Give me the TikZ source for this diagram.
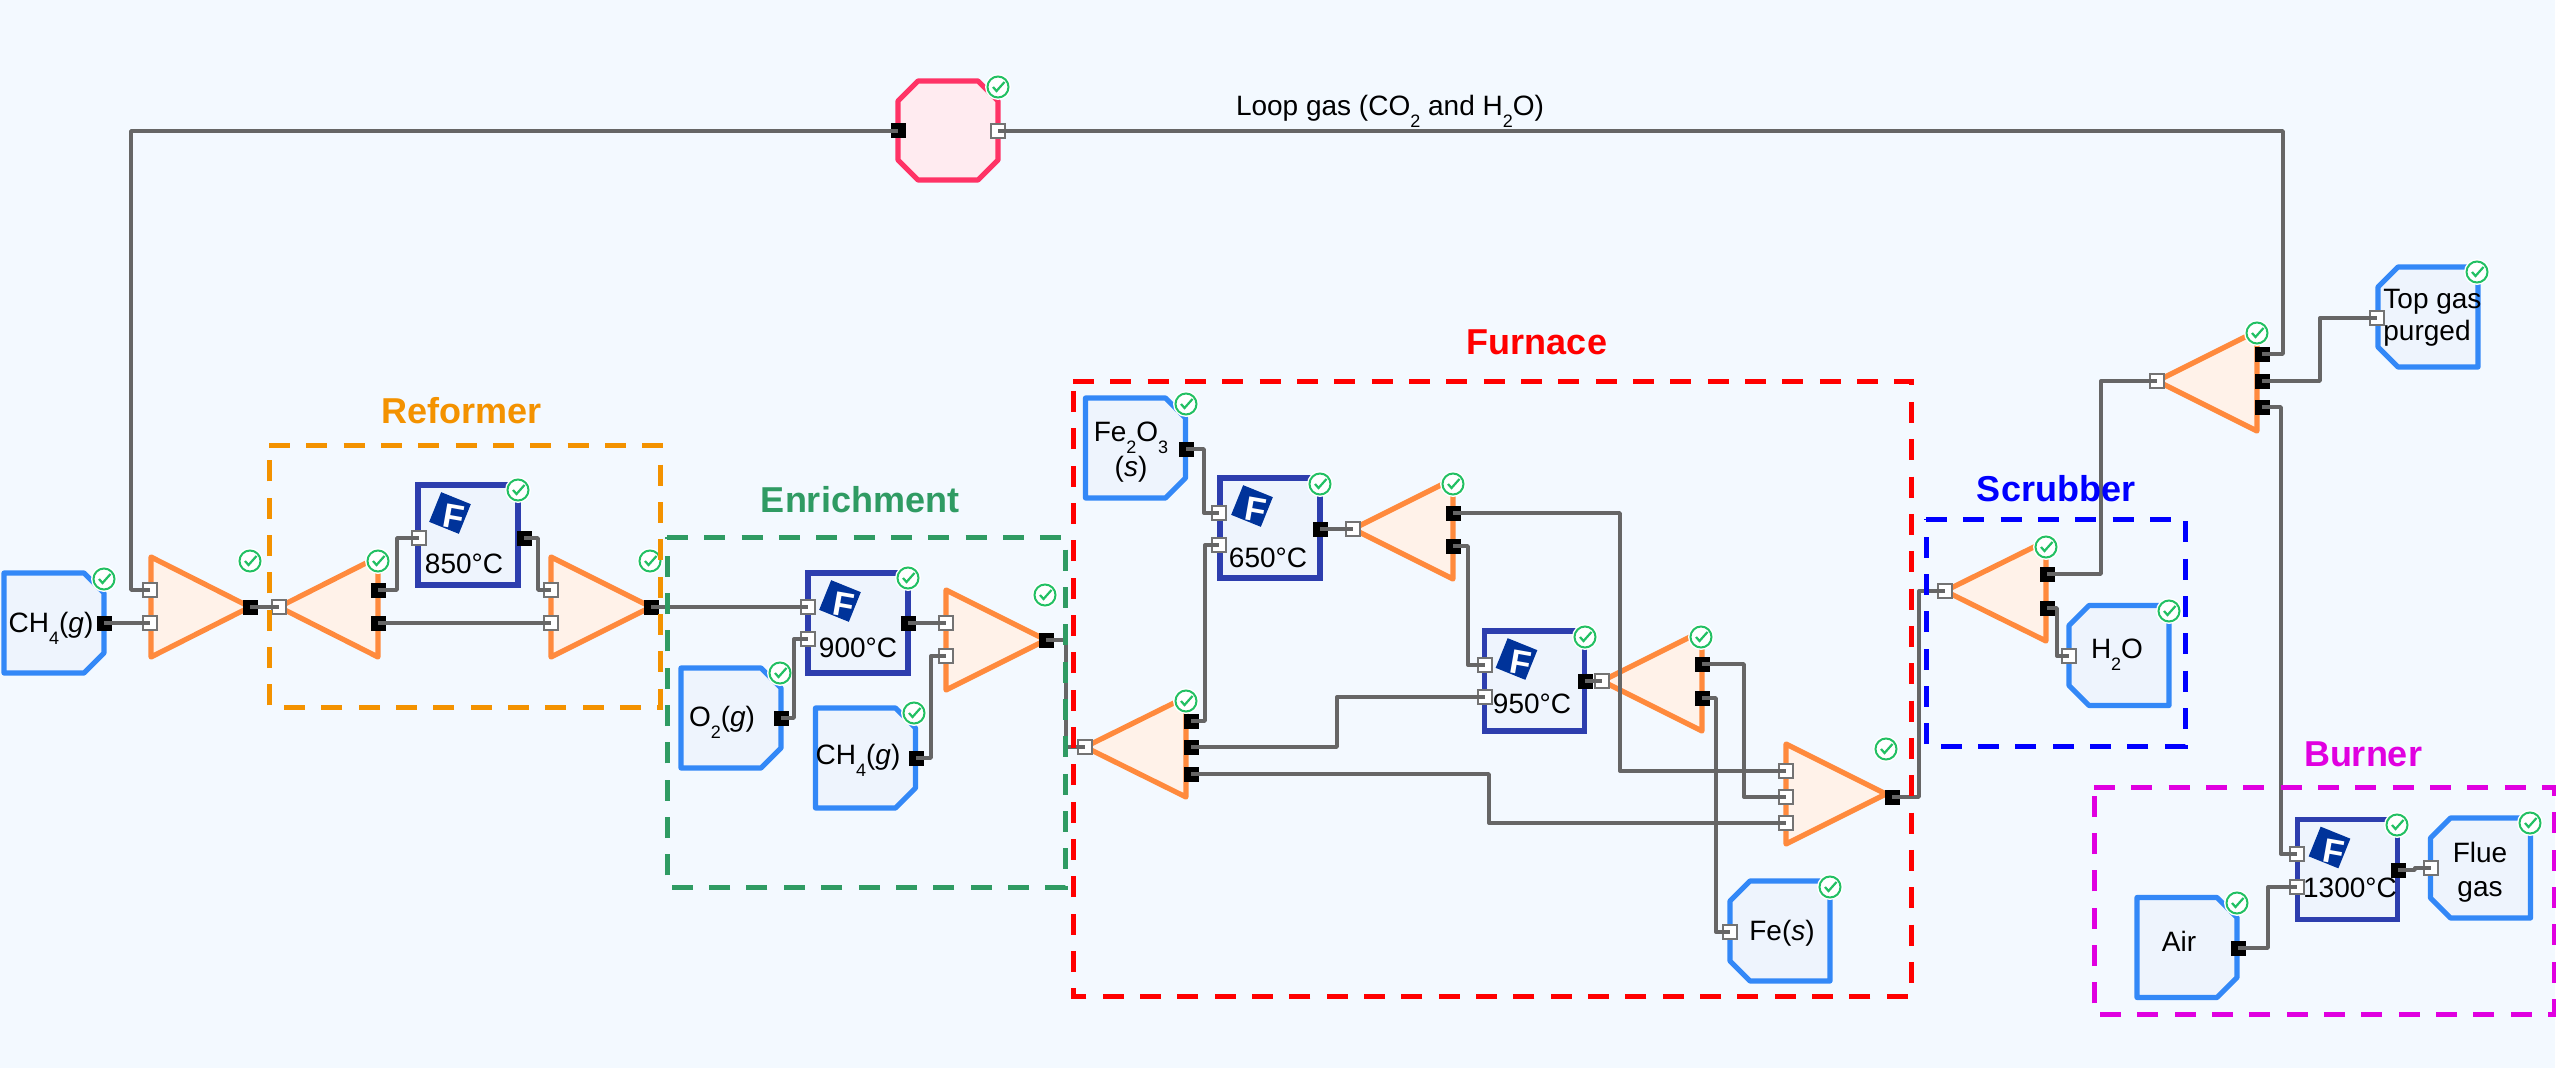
\documentclass[tikz,border=0pt]{standalone}
\usepackage{fontspec}
\setmainfont{Liberation Sans}
\usetikzlibrary{arrows}

\definecolor{pagebg}{HTML}{F3F9FF}
\definecolor{streamline}{HTML}{3388F7}
\definecolor{streamfill}{HTML}{EEF4FD}
\definecolor{reactline}{HTML}{2D3EAE}
\definecolor{mixline}{HTML}{FF8A3D}
\definecolor{mixfill}{HTML}{FFF2E9}
\definecolor{loopline}{HTML}{FF3366}
\definecolor{loopfill}{HTML}{FFEBF0}
\definecolor{okgreen}{HTML}{22C063}
\definecolor{logoblue}{HTML}{00339A}
\definecolor{reformcol}{HTML}{F39200}
\definecolor{enrichcol}{HTML}{2F9B63}
\definecolor{burncol}{HTML}{E000E0}

\newcommand{\lsub}[1]{\smash{\raisebox{-6pt}{\fontsize{9}{9}\selectfont #1}}}

\tikzset{
  stream/.style={draw=streamline, fill=streamfill, line width=2.6pt, line join=round},
  reactor/.style={draw=reactline, fill=streamfill, line width=2.6pt, minimum width=50pt, minimum height=50pt, inner sep=0pt},
  mixer/.style={draw=mixline, fill=mixfill, line width=2.6pt, line join=round},
  portout/.style={fill=black, minimum size=7.5pt, inner sep=0pt},
  portin/.style={draw=black!55, fill=white, line width=0.7pt, minimum size=7pt, inner sep=0pt},
  wire/.style={draw=black!60, line width=1.7pt, line join=round},
  tag/.style={anchor=base, inner sep=0pt, font=\fontsize{14}{14}\selectfont},
  title/.style={anchor=base, inner sep=0pt, font=\fontsize{18}{18}\selectfont\bfseries},
  zone/.style={line width=2.5pt, dash pattern=on 10.5pt off 8.17pt},
  okring/.style={circle, draw=okgreen, line width=1pt, fill=white, minimum size=10.5pt, inner sep=0pt},
  okmark/.style={draw=okgreen, line width=1.1pt},
  logo/.style={fill=logoblue, minimum size=16pt, inner sep=0pt, rotate=-22},
  logoletter/.style={text=white, inner sep=0pt, rotate=-10, font=\fontsize{17}{17}\selectfont\bfseries}
}

\begin{document}
\begin{tikzpicture}[x=0.5pt,y=-0.5pt]
  \useasboundingbox (0,0) rectangle (2556,1081);
  \fill[pagebg] (0,0) rectangle (2555,1068);

  % stream boxes, s=1 is cut on the right, s=-1 on the left
  \foreach \name/\x/\y/\s in {feed/54/623/1, oxy/731/718/1, feedb/865.5/758/1, ore/1135.5/448/1, air/2187/947.5/1,
                              iron/1780/931/-1, water/2119/655.5/-1, purge/2428/317/-1, flue/2480.5/868/-1}{
    \draw[stream] (\x-\s*50,\y-50) -- (\x+\s*30,\y-50) -- (\x+\s*50,\y-30) -- (\x+\s*50,\y+30)
      -- (\x+\s*30,\y+50) -- (\x-\s*50,\y+50) -- cycle;
    \coordinate (box\name) at (\x,\y);
  }
  \draw[stream, draw=loopline, fill=loopfill] (918,81) -- (978,81) -- (998,101) -- (998,160)
    -- (978,180) -- (918,180) -- (898,160) -- (898,101) -- cycle;

  % reactors
  \foreach \name/\x/\y in {reform/468/535, enrich/858/623, prered/1270/528, reduce/1534.5/681, burn/2347.5/869.5}{
    \node[reactor] (\name) at (\x,\y) {};
    \node[logo] (logo\name) at (\x-18,\y-22) {};
    \node[logoletter] (letter\name) at (\x-14,\y-18) {F};
  }

  % mixers and splitters, d is signed width
  \foreach \x/\y/\d in {151/607/99, 378/607/-99, 551/607/100, 946/640/100, 1186/747/-101,
                        1453/529/-100, 1702/681/-100, 1786/794/100, 2046/591/-101, 2257/381/-100}{
    \draw[mixer] (\x,\y-50) -- (\x,\y+50) -- (\x+\d,\y) -- cycle;
  }

  % labels
  \node[tag] (lblfeed) at (51,632) {CH\lsub{4}(\textit{g})};
  \node[tag] (lbloxy) at (722,726) {O\lsub{2}(\textit{g})};
  \node[tag] (lblfeedb) at (858,764) {CH\lsub{4}(\textit{g})};
  \node[tag] (lblore) at (1131,441) {Fe\lsub{2}O\lsub{3}};
  \node[tag] (lblorestate) at (1131,476) {(\textit{s})};
  \node[tag] (lbliron) at (1782,940) {Fe(\textit{s})};
  \node[tag] (lblwater) at (2117,658) {H\lsub{2}O};
  \node[tag, anchor=base west] (lblpurgea) at (2383,308) {Top gas};
  \node[tag, anchor=base west] (lblpurgeb) at (2383,340) {purged};
  \node[tag] (lblfluea) at (2480,862) {Flue};
  \node[tag] (lblflueb) at (2480,896) {gas};
  \node[tag] (lblair) at (2179,951) {Air};
  \node[tag] (lblloop) at (1390,116) {Loop gas (CO\lsub{2} and H\lsub{2}O)};
  \node[tag] (tempreform) at (464,573) {850°C};
  \node[tag] (tempenrich) at (858,657) {900°C};
  \node[tag] (tempprered) at (1268,567) {650°C};
  \node[tag] (tempreduce) at (1532,713) {950°C};
  \node[tag] (tempburn) at (2350,897) {1300°C};

  % status badges
  \foreach \x/\y [count=\i] in {104/579, 250/561, 378/561, 518/490, 650/561, 780/673, 908/578, 914/713, 1045/595,
                                1186/404, 1320/484, 1453/484, 1186/701, 1585/637, 1701/637, 1886/749, 1830/887,
                                2046/547, 2169/611, 2257/333, 2477/272, 2237/903, 2397/825, 2530/823, 998/87}{
    \fill[white] (\x,\y) circle [radius=13];
    \node[okring] (ok\i) at (\x,\y) {};
    \draw[okmark] (\x-5,\y) -- ++(3.5,4) -- ++(8,-9);
  }

  % ports
  \foreach \name/\x/\y in {chout/104/623, mixaout/250/607, spaa/378/590, spab/378/623, reformout/524/538,
                           mixbout/651/607, oxyout/781/718, enrichout/908/623, chbout/916/758, mixcout/1046/640,
                           spba/1191/721, spbb/1191/747, spbc/1191/774, oreout/1186/449, preredout/1320/529,
                           spca/1453/513, spcb/1453/546, reduceout/1585/681, spda/1702/664, spdb/1702/698,
                           mixdout/1892/797, spea/2047/574, speb/2047/608, spfa/2262/354, spfb/2262/381,
                           spfc/2262/407, burnout/2398/870, airout/2238/948, loopout/898/131}{
    \node[portout] (\name) at (\x,\y) {};
  }
  \foreach \name/\x/\y in {mixaa/150/590, mixab/150/623, spain/279/607, reformin/419/538, mixba/551/590, mixbb/551/623,
                           enricha/808/607, enrichb/808/639, mixca/946/623, mixcb/946/656, spbin/1085/747,
                           prereda/1219/513, preredb/1219/545, spcin/1353/529, reducea/1485/665, reduceb/1485/697,
                           spdin/1602/681, ironin/1730/932, mixda/1786/771, mixdb/1786/797, mixdc/1786/823,
                           spein/1945/591, waterin/2069/656, spfin/2157/381, purgein/2377/318, burna/2297/854,
                           burnb/2297/887, fluein/2431/868, loopin/998/131}{
    \node[portin] (\name) at (\x,\y) {};
  }

  % connectors, d is the run before the vertical leg
  \foreach \a/\d/\b in {chout/0/mixab, mixaa/-19/loopout, mixaout/0/spain, spaa/19/reformin, spab/0/mixbb,
                        reformout/14/mixba, mixbout/0/enricha, oxyout/13/enrichb, enrichout/0/mixca, chbout/15/mixcb,
                        mixcout/20/spbin, spba/14/preredb, spbb/146/reduceb, spbc/298/mixdc, oreout/18/prereda,
                        preredout/0/spcin, spca/167/mixda, spcb/15/reducea, reduceout/0/spdin, spda/42/mixdb,
                        spdb/14/ironin, mixdout/27/spein, spea/54/spfin, speb/10/waterin, spfa/21/loopin,
                        spfb/58/purgein, spfc/19/burna, airout/30/burnb, burnout/17/fluein}{
    \draw[wire] (\a.center) -- ++(\d,0) |- (\b.center);
  }

  % dashed zones
  \draw[zone, reformcol] (269,445) -- (660,445) -- (660,707) -- (269,707) -- cycle;
  \draw[zone, enrichcol] (667,537) -- (1065,537) -- (1065,887) -- (667,887) -- cycle;
  \draw[zone, red] (1073,381) -- (1911,381) -- (1911,996) -- (1073,996) -- cycle;
  \draw[zone, blue] (1926,519) -- (2185,519) -- (2185,746) -- (1926,746) -- cycle;
  \draw[zone, burncol] (2094,787) -- (2554,787) -- (2554,1014) -- (2094,1014) -- cycle;

  \node[title, text=reformcol] (ttlreform) at (462,423) {Reformer};
  \node[title, text=enrichcol] (ttlenrich) at (860,512) {Enrichment};
  \node[title, text=red] (ttlfurnace) at (1537,354) {Furnace};
  \node[title, text=blue] (ttlscrub) at (2056,501) {Scrubber};
  \node[title, text=burncol] (ttlburn) at (2363,766) {Burner};
\end{tikzpicture}
\end{document}
